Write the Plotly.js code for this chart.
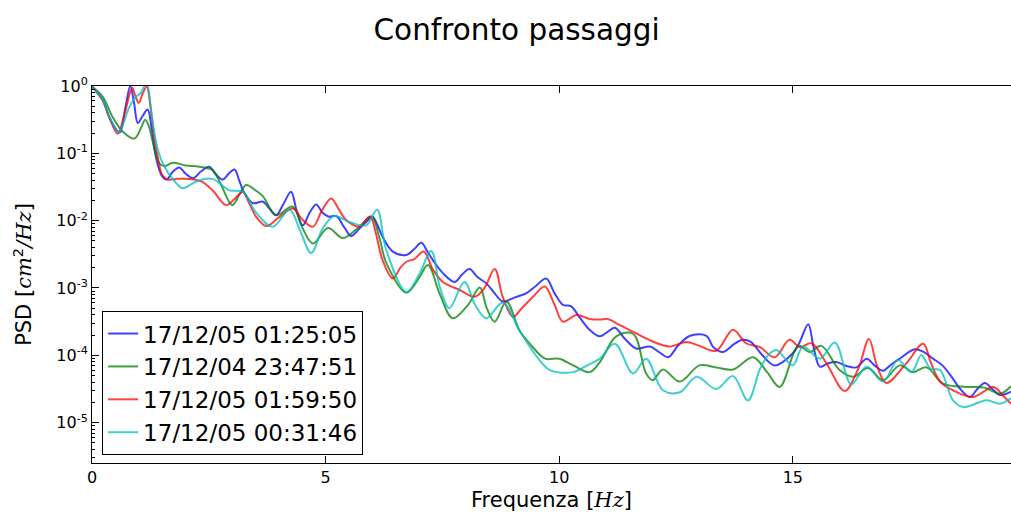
<!DOCTYPE html>
<html>
<head>
<meta charset="utf-8">
<script src="https://cdn.plot.ly/plotly-3.0.1.min.js"></script>
<style>html,body{margin:0;padding:0;background:#fff;}#chart{width:1011px;height:518px;}</style>
</head>
<body>
<div id="chart"></div>
<script>
// ---- Data ----
const seriesNames = ["17/12/05 01:25:05", "17/12/04 23:47:51", "17/12/05 01:59:50", "17/12/05 00:31:46"];
const seriesColors = ["rgba(0,0,255,0.75)", "rgba(0,128,0,0.75)", "rgba(255,0,0,0.75)", "rgba(0,191,191,0.75)"];

const blueFreq = [0.00,0.23,0.37,0.52,0.60,0.72,0.82,0.90,0.98,1.08,1.19,1.27,1.34,1.42,1.51,1.60,1.72,1.87,2.00,2.16,2.33,2.51,2.66,2.80,2.93,3.05,3.16,3.26,3.44,3.66,3.80,3.94,4.10,4.26,4.38,4.51,4.66,4.80,4.93,5.06,5.23,5.40,5.55,5.72,5.87,6.00,6.10,6.22,6.44,6.73,6.90,7.05,7.17,7.30,7.51,7.76,7.92,8.08,8.25,8.44,8.62,8.79,9.05,9.29,9.50,9.72,9.90,10.08,10.25,10.45,10.65,10.87,11.02,11.19,11.40,11.65,11.94,12.15,12.33,12.55,12.80,13.15,13.30,13.51,13.75,13.93,14.10,14.35,14.61,15.00,15.15,15.33,15.45,15.58,15.75,15.93,16.15,16.36,16.58,16.75,16.93,17.10,17.29,17.61,17.80,18.00,18.20,18.40,18.57,18.79,18.95,19.11,19.27,19.43,19.67];
const bluePsd = [0.98,0.617,0.347,0.224,0.204,0.501,1.0,0.562,0.282,0.355,0.447,0.251,0.112,0.0631,0.0447,0.0407,0.0525,0.0617,0.0501,0.0427,0.0537,0.0631,0.0479,0.0407,0.0501,0.0575,0.038,0.0257,0.0182,0.0191,0.0151,0.012,0.0178,0.0269,0.0141,0.00851,0.0132,0.0174,0.0132,0.0115,0.0117,0.00794,0.00589,0.00759,0.00955,0.0115,0.00891,0.00575,0.00347,0.00309,0.0038,0.00468,0.00355,0.00257,0.00166,0.00123,0.00158,0.00191,0.00145,0.00117,0.000832,0.000631,0.000724,0.000832,0.00107,0.00138,0.000832,0.000562,0.000537,0.000355,0.00024,0.000191,0.000219,0.000257,0.000178,0.000126,0.000135,0.00011,9.33e-5,0.000141,0.000195,0.000195,0.000132,0.000112,0.000148,0.00017,0.000158,0.0001,7.08e-5,0.000107,0.000158,0.000288,0.000126,6.76e-5,7.59e-5,7.94e-5,6.92e-5,6.61e-5,8.91e-5,7.08e-5,5.89e-5,7.24e-5,8.91e-5,0.000123,0.000112,8.91e-5,7.08e-5,4.79e-5,3.24e-5,2.4e-5,3.16e-5,3.89e-5,3.16e-5,2.57e-5,2.88e-5];

const greenFreq = [0.00,0.23,0.44,0.66,0.91,1.05,1.14,1.22,1.30,1.44,1.55,1.73,2.00,2.30,2.58,2.75,3.00,3.15,3.30,3.50,3.66,3.94,4.29,4.50,4.73,5.05,5.37,5.69,5.98,6.15,6.30,6.73,7.00,7.19,7.45,7.72,8.05,8.30,8.45,8.62,8.87,9.15,9.40,9.70,10.00,10.30,10.65,10.87,11.22,11.58,11.86,12.00,12.22,12.58,13.00,13.36,13.72,14.15,14.45,14.72,15.12,15.36,15.61,16.00,16.29,16.61,16.93,17.29,17.57,17.86,18.22,18.72,19.10,19.43,19.67];
const greenPsd = [0.98,0.692,0.347,0.209,0.166,0.24,0.316,0.251,0.148,0.0708,0.0646,0.0724,0.0661,0.0631,0.0562,0.0355,0.017,0.024,0.0339,0.0282,0.0229,0.012,0.0162,0.00794,0.00457,0.00776,0.0055,0.00776,0.0115,0.00562,0.00234,0.000851,0.00141,0.00219,0.000794,0.000355,0.000562,0.00102,0.000501,0.000316,0.000631,0.000234,0.000141,8.91e-5,8.91e-5,7.08e-5,5.62e-5,7.94e-5,0.000191,0.000209,5.37e-5,4.27e-5,6.17e-5,4.07e-5,7.08e-5,6.61e-5,6.17e-5,9.33e-5,5.62e-5,3.39e-5,0.000138,0.000112,0.000138,6.03e-5,4.79e-5,6.46e-5,4.27e-5,7.08e-5,5.62e-5,6.61e-5,3.8e-5,3.39e-5,3.31e-5,2.69e-5,3.47e-5];

const redFreq = [0.00,0.23,0.37,0.55,0.70,0.86,0.93,1.00,1.08,1.17,1.26,1.34,1.42,1.50,1.62,1.80,2.10,2.35,2.58,2.87,3.05,3.23,3.37,3.51,3.73,4.00,4.30,4.51,4.73,4.92,5.12,5.28,5.44,5.73,5.95,6.08,6.22,6.44,6.60,6.73,6.90,7.10,7.30,7.51,7.87,8.19,8.40,8.62,8.79,9.01,9.20,9.44,9.69,9.90,10.08,10.37,10.65,10.87,11.04,11.29,11.58,11.95,12.36,12.72,13.00,13.36,13.72,14.00,14.30,14.61,14.93,15.15,15.40,15.72,16.11,16.40,16.63,16.80,17.00,17.43,17.79,17.95,18.15,18.43,18.86,19.29,19.50,19.67];
const redPsd = [0.98,0.603,0.339,0.195,0.398,0.933,0.708,0.562,0.759,0.977,0.447,0.158,0.0794,0.0479,0.0407,0.0417,0.0417,0.038,0.0282,0.017,0.0209,0.0269,0.0178,0.0115,0.00832,0.0112,0.0151,0.0102,0.00813,0.0141,0.0214,0.0148,0.0102,0.00813,0.0115,0.00631,0.00257,0.00138,0.002,0.00245,0.00269,0.00347,0.00186,0.00123,0.000933,0.000741,0.001,0.00191,0.000741,0.000372,0.000501,0.000741,0.00105,0.000562,0.000316,0.000398,0.000347,0.000339,0.000347,0.000282,0.000224,0.000166,0.000135,0.000158,0.000138,0.000117,0.00024,0.000151,0.000132,9.33e-5,0.00017,0.000132,0.000151,7.59e-5,2.95e-5,6.31e-5,0.000174,7.08e-5,3.89e-5,7.59e-5,0.000148,7.94e-5,4.07e-5,3.02e-5,2.4e-5,3.39e-5,2.51e-5,1.91e-5];

const cyanFreq = [0.00,0.23,0.37,0.52,0.58,0.80,0.94,1.05,1.16,1.30,1.41,1.55,1.75,1.94,2.10,2.30,2.58,2.94,3.23,3.51,3.87,4.23,4.45,4.69,4.95,5.19,5.51,5.87,6.10,6.30,6.73,7.00,7.26,7.45,7.65,7.97,8.20,8.44,8.79,9.15,9.50,9.80,10.30,10.60,10.87,11.19,11.58,11.86,12.22,12.58,12.94,13.36,13.72,14.04,14.30,14.51,14.65,15.00,15.22,15.58,15.90,16.25,16.58,16.93,17.25,17.54,17.75,17.95,18.15,18.43,18.65,19.15,19.43,19.67];
const cyanPsd = [0.98,0.617,0.347,0.224,0.204,0.49,0.692,0.794,1.12,0.282,0.112,0.0631,0.0398,0.0302,0.0339,0.0398,0.0417,0.0282,0.0269,0.0132,0.00813,0.0145,0.00724,0.00331,0.00794,0.0117,0.00955,0.00851,0.0145,0.00363,0.000871,0.00158,0.00355,0.001,0.000501,0.00123,0.000562,0.000355,0.000603,0.000234,0.0001,6.03e-5,5.62e-5,7.08e-5,8.91e-5,0.000148,5.37e-5,8.91e-5,3.02e-5,2.82e-5,4.79e-5,3.16e-5,4.9e-5,2.14e-5,6.31e-5,0.000107,0.00012,7.08e-5,0.000135,8.91e-5,0.000155,3.72e-5,6.76e-5,4.07e-5,8.51e-5,5.62e-5,0.0001,6.31e-5,6.03e-5,2.14e-5,1.7e-5,2.14e-5,1.91e-5,2.29e-5];

const yTickVals = [1, 0.1, 0.01, 0.001, 0.0001, 0.00001];
const yTickText = ["10<sup>0</sup>", "10<sup>-1</sup>", "10<sup>-2</sup>", "10<sup>-3</sup>", "10<sup>-4</sup>", "10<sup>-5</sup>"];
const xTickVals = [0, 5, 10, 15];

// ---- Build traces ----
const xs = [blueFreq, greenFreq, redFreq, cyanFreq];
const ys = [bluePsd, greenPsd, redPsd, cyanPsd];
const traces = seriesNames.map((name, i) => ({
  type: "scatter", mode: "lines", name: name,
  x: xs[i], y: ys[i],
  line: {color: seriesColors[i], width: 2, shape: "spline", smoothing: 1},
  hoverinfo: "skip"
}));

const font = "DejaVu Sans, Liberation Sans, sans-serif";
const mathSpan = (s) => "<span style=\"font-family:'DejaVu Serif',serif\"><i>" + s + "</i></span>";
const layout = {
  width: 1011, height: 518,
  margin: {l: 92, r: 0, t: 86, b: 55},
  paper_bgcolor: "#fff", plot_bgcolor: "#fff",
  font: {family: font, color: "#000", size: 16},
  title: {text: "Confronto passaggi", font: {family: font, size: 29.5, color: "#000"},
          xref: "container", yref: "container", x: 0.511, y: 0.942, xanchor: "center", yanchor: "middle"},
  showlegend: true,
  legend: {x: 0.011, y: 0.021, xanchor: "left", yanchor: "bottom",
           bgcolor: "#fff", bordercolor: "#000", borderwidth: 1,
           font: {family: font, size: 23, color: "#000"}, tracegroupgap: 0},
  xaxis: {
    range: [0, 19.67], showgrid: false, zeroline: false,
    showline: true, linecolor: "#000", linewidth: 1, mirror: "ticks",
    ticks: "inside", ticklen: 7, tickcolor: "#000",
    tickvals: xTickVals, tickfont: {size: 16, family: font},
    title: {text: "Frequenza [" + mathSpan("Hz") + "]", font: {size: 21, family: font}, standoff: 6}
  },
  yaxis: {
    type: "log", range: [-5.6, 0], showgrid: false, zeroline: false,
    showline: true, linecolor: "#000", linewidth: 1, mirror: false,
    ticks: "inside", ticklen: 7, tickcolor: "#000",
    tickvals: yTickVals, ticktext: yTickText, tickfont: {size: 16, family: font},
    minor: {ticks: "inside", ticklen: 3, tickcolor: "#000", dtick: "D1"},
    title: {text: "PSD [" + mathSpan("cm") + "<sup>2</sup>" + mathSpan("/Hz") + "]", font: {size: 21, family: font}, standoff: 18}
  }
};

Plotly.newPlot("chart", traces, layout, {displayModeBar: false, staticPlot: true});
</script>
</body>
</html>
